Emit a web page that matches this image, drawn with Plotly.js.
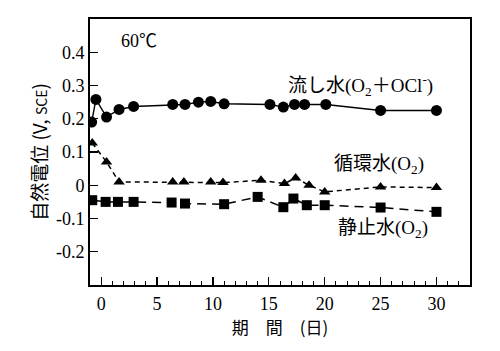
<!DOCTYPE html>
<html>
<head>
<meta charset="utf-8">
<script src="https://cdn.plot.ly/plotly-3.0.1.min.js"></script>
<style>html,body{margin:0;padding:0;background:#fff;}#chart{width:500px;height:351px;}</style>
</head>
<body>
<div id="chart"></div>
<script>
// 流し水 (O2 + OCl-) — circles, solid line
const flowDays = [-0.85, -0.47, 0.48, 1.6, 2.9, 6.4, 7.5, 8.7, 9.8, 11, 15.1, 16.3, 17.3, 18.2, 20.1, 25, 30];
const flowPot  = [0.19, 0.258, 0.205, 0.228, 0.237, 0.243, 0.243, 0.25, 0.252, 0.245, 0.243, 0.235, 0.243, 0.243, 0.243, 0.225, 0.225];

// 循環水 (O2) — triangles, short dashes
const circDays = [-0.8, 0.48, 1.6, 6.4, 7.4, 9.8, 10.9, 14.3, 16.4, 17.4, 18.6, 20, 25, 30];
const circPot  = [0.127, 0.07, 0.01, 0.01, 0.01, 0.01, 0.008, 0.015, 0.005, 0.022, 0.0, -0.02, -0.005, -0.007];

// 静止水 (O2) — squares, long dashes
const stillDays = [-0.8, 0.4, 1.5, 2.9, 6.3, 7.5, 11, 14, 16.3, 17.2, 18.4, 20, 25, 30];
const stillPot  = [-0.045, -0.05, -0.05, -0.05, -0.052, -0.055, -0.057, -0.035, -0.066, -0.04, -0.06, -0.06, -0.067, -0.08];

const xTickVals = [0, 5, 10, 15, 20, 25, 30];
const xTickText = ['0', '5', '10', '15', '20', '25', '30'];
const yTickVals = [-0.2, -0.1, 0, 0.1, 0.2, 0.3, 0.4];
const yTickText = ['-0.2', '-0.1', '0', '0.1', '0.2', '0.3', '0.4'];

const serif = '"Liberation Serif", "Noto Sans CJK JP", serif';
const cjk = '"Noto Sans CJK JP", sans-serif';

const traces = [
  {x: flowDays, y: flowPot, mode: 'lines+markers', type: 'scatter',
   line: {color: '#000', width: 1.4}, marker: {symbol: 'circle', size: 11, color: '#000'}},
  {x: circDays, y: circPot, mode: 'lines+markers', type: 'scatter',
   line: {color: '#000', width: 1.5, dash: '5px,4px'}, marker: {symbol: 'triangle-up', size: 10, color: '#000'}},
  {x: stillDays, y: stillPot, mode: 'lines+markers', type: 'scatter',
   line: {color: '#000', width: 1.5, dash: '9px,6px'}, marker: {symbol: 'square', size: 10, color: '#000'}}
];

const layout = {
  width: 500, height: 351,
  margin: {l: 89.5, r: 30, t: 18.5, b: 65.5},
  paper_bgcolor: '#fff', plot_bgcolor: '#fff',
  showlegend: false,
  font: {family: serif, color: '#000', size: 18},
  xaxis: {
    range: [-1, 33], tickvals: xTickVals, ticktext: xTickText,
    ticks: 'inside', ticklen: 8, tickwidth: 1.3, tickcolor: '#000',
    minor: {dtick: 1, tick0: 0, ticks: 'inside', ticklen: 4, tickwidth: 1, tickcolor: '#000'},
    showgrid: false, zeroline: false, showline: true, linecolor: '#000', linewidth: 2, mirror: true,
    tickfont: {family: serif, size: 18}, ticklabelstandoff: 1,
    title: {text: '期　間　(日)', font: {family: cjk, size: 17}, standoff: 4}
  },
  yaxis: {
    range: [-0.3, 0.5], tickvals: yTickVals, ticktext: yTickText,
    ticks: 'inside', ticklen: 8, tickwidth: 1.3, tickcolor: '#000',
    showgrid: false, zeroline: false, showline: true, linecolor: '#000', linewidth: 2, mirror: true,
    tickfont: {family: serif, size: 18},
    title: {text: '自然電位 (V, <span style="font-size:14px">SCE</span>)', font: {family: cjk, size: 19}, standoff: 3}
  },
  annotations: [
    {x: 3.4, y: 0.434, xref: 'x', yref: 'y', text: '60℃', showarrow: false, font: {family: serif, size: 18}},
    {x: 23.2, y: 0.30, xref: 'x', yref: 'y', text: '流し水(O<sub>2</sub>＋OCl<sup>-</sup>)', showarrow: false, font: {family: serif, size: 19}},
    {x: 24.9, y: 0.06, xref: 'x', yref: 'y', text: '循環水(O<sub>2</sub>)', showarrow: false, font: {family: serif, size: 19}},
    {x: 25.2, y: -0.132, xref: 'x', yref: 'y', text: '静止水(O<sub>2</sub>)', showarrow: false, font: {family: serif, size: 19}}
  ]
};

Plotly.newPlot('chart', traces, layout, {staticPlot: true, displayModeBar: false});
</script>
</body>
</html>
